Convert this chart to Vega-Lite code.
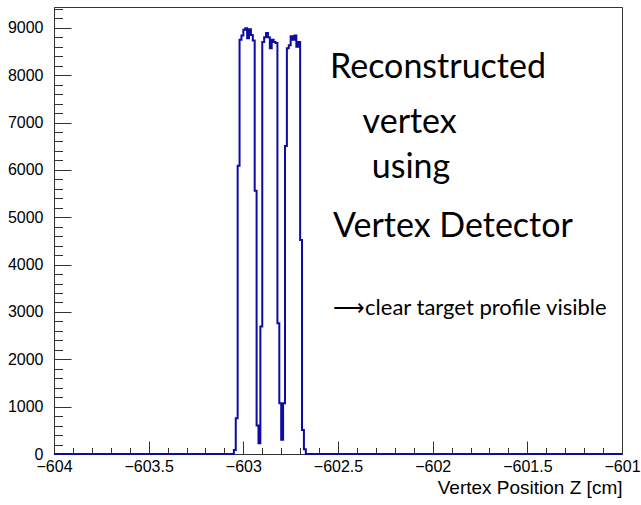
{
  "$schema": "https://vega.github.io/schema/vega-lite/v6.json",
  "width": 568,
  "height": 447,
  "autosize": "none",
  "padding": {"left": 54, "top": 7, "right": 19, "bottom": 51},
  "background": "white",
  "config": {
    "view": {"stroke": "#333333", "strokeWidth": 1},
    "axis": {"grid": false, "domainColor": "#333333", "tickColor": "#333333", "labelColor": "black", "titleColor": "black", "labelFont": "Liberation Sans", "labelFontSize": 16, "labelFlush": false, "labelOverlap": false}
  },
  "datasets": {
    "hist": [
      {"z": -604, "count": 0},
      {"z": -603.05, "count": 85},
      {"z": -603.04, "count": 754},
      {"z": -603.03, "count": 6085},
      {"z": -603.02, "count": 8750},
      {"z": -603.01, "count": 8840},
      {"z": -603.0, "count": 8960},
      {"z": -602.99, "count": 8990},
      {"z": -602.98, "count": 8780},
      {"z": -602.97, "count": 8970},
      {"z": -602.96, "count": 8850},
      {"z": -602.95, "count": 8730},
      {"z": -602.94, "count": 5557},
      {"z": -602.93, "count": 600},
      {"z": -602.92, "count": 226},
      {"z": -602.91, "count": 2690},
      {"z": -602.9, "count": 8700},
      {"z": -602.89, "count": 8800},
      {"z": -602.88, "count": 8890},
      {"z": -602.87, "count": 8800},
      {"z": -602.86, "count": 8570},
      {"z": -602.85, "count": 8750},
      {"z": -602.84, "count": 8700},
      {"z": -602.83, "count": 8680},
      {"z": -602.82, "count": 2761},
      {"z": -602.81, "count": 1071},
      {"z": -602.8, "count": 300},
      {"z": -602.79, "count": 1071},
      {"z": -602.78, "count": 6507},
      {"z": -602.77, "count": 8570},
      {"z": -602.76, "count": 8630},
      {"z": -602.75, "count": 8820},
      {"z": -602.74, "count": 8750},
      {"z": -602.73, "count": 8840},
      {"z": -602.72, "count": 8600},
      {"z": -602.71, "count": 8700},
      {"z": -602.7, "count": 4521},
      {"z": -602.69, "count": 507},
      {"z": -602.68, "count": 100},
      {"z": -602.67, "count": 0},
      {"z": -601, "count": 0}
    ],
    "notes": [
      {"z": -602.542, "count": 7944, "text": "Reconstructed"},
      {"z": -602.370, "count": 6788, "text": "vertex"},
      {"z": -602.322, "count": 5831, "text": "using"},
      {"z": -602.526, "count": 4591, "text": "Vertex Detector"}
    ],
    "arrow": [
      {"z": -602.526, "count": 2937, "text": "⟶clear target profile visible"}
    ]
  },
  "resolve": {"axis": {"x": "independent", "y": "independent"}},
  "layer": [
    {
      "data": {"name": "hist"},
      "mark": {"type": "line", "interpolate": "step-after", "color": "#0c0ca3", "strokeWidth": 2},
      "encoding": {
        "x": {
          "field": "z", "type": "quantitative",
          "scale": {"domain": [-604, -601], "nice": false, "zero": false},
          "axis": {
            "orient": "bottom",
            "values": [-603.9, -603.8, -603.7, -603.6, -603.4, -603.3, -603.2, -603.1, -602.9, -602.8, -602.7, -602.6, -602.4, -602.3, -602.2, -602.1, -601.9, -601.8, -601.7, -601.6, -601.4, -601.3, -601.2, -601.1],
            "labels": false,
            "ticks": true,
            "tickSize": -6.5,
            "domain": true,
            "title": null
          }
        },
        "y": {
          "field": "count", "type": "quantitative",
          "scale": {"domain": [0, 9440], "nice": false},
          "axis": {
            "orient": "left",
            "values": [200, 400, 600, 800, 1200, 1400, 1600, 1800, 2200, 2400, 2600, 2800, 3200, 3400, 3600, 3800, 4200, 4400, 4600, 4800, 5200, 5400, 5600, 5800, 6200, 6400, 6600, 6800, 7200, 7400, 7600, 7800, 8200, 8400, 8600, 8800, 9200, 9400],
            "labels": false,
            "ticks": true,
            "tickSize": -8.5,
            "domain": true,
            "title": null
          }
        }
      }
    },
    {
      "data": {"name": "notes"},
      "mark": {"type": "text", "align": "left", "baseline": "alphabetic", "font": "Lato", "fontSize": 34, "color": "black"},
      "encoding": {
        "x": {
          "field": "z", "type": "quantitative",
          "scale": {"domain": [-604, -601], "nice": false, "zero": false},
          "axis": {
            "orient": "bottom",
            "values": [-604, -603.5, -603, -602.5, -602, -601.5, -601],
            "format": "~f",
            "ticks": true,
            "tickSize": -13,
            "labelPadding": 17,
            "domain": false,
            "title": "Vertex Position Z [cm]",
            "titleFont": "Liberation Sans",
            "titleFontSize": 19,
            "titleFontWeight": "normal",
            "titleAnchor": "end",
            "titleAlign": "right",
            "titleX": 568,
            "titleY": 39,
            "titleBaseline": "alphabetic"
          }
        },
        "y": {
          "field": "count", "type": "quantitative",
          "scale": {"domain": [0, 9440], "nice": false},
          "axis": {
            "orient": "left",
            "values": [0, 1000, 2000, 3000, 4000, 5000, 6000, 7000, 8000, 9000],
            "format": "d",
            "ticks": true,
            "tickSize": -17,
            "labelPadding": 28,
            "domain": false,
            "title": null
          }
        },
        "text": {"field": "text"}
      }
    },
    {
      "data": {"name": "arrow"},
      "mark": {"type": "text", "align": "left", "baseline": "alphabetic", "font": "Lato", "fontSize": 22, "color": "black"},
      "encoding": {
        "x": {"field": "z", "type": "quantitative", "scale": {"domain": [-604, -601], "nice": false, "zero": false}, "axis": null},
        "y": {"field": "count", "type": "quantitative", "scale": {"domain": [0, 9440], "nice": false}, "axis": null},
        "text": {"field": "text"}
      }
    }
  ]
}
